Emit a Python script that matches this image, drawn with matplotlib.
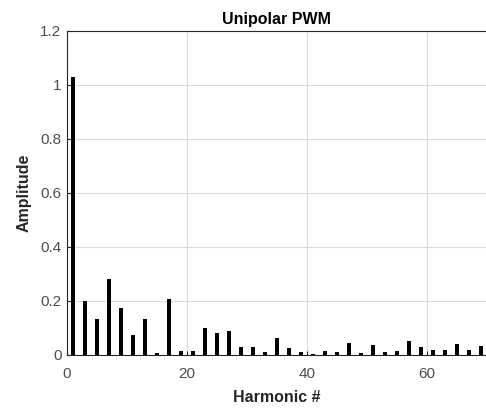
import matplotlib
matplotlib.use("Agg")
import matplotlib.pyplot as plt

# odd harmonic orders and their amplitudes
harmonics = [1, 3, 5, 7, 9, 11, 13, 15, 17, 19, 21, 23, 25, 27, 29, 31, 33, 35,
             37, 39, 41, 43, 45, 47, 49, 51, 53, 55, 57, 59, 61, 63, 65, 67, 69]
amplitude = [1.028, 0.200, 0.132, 0.283, 0.173, 0.073, 0.133, 0.006, 0.209, 0.015,
             0.015, 0.099, 0.083, 0.089, 0.031, 0.030, 0.010, 0.062,
             0.025, 0.010, 0.003, 0.015, 0.012, 0.043, 0.006, 0.037, 0.010, 0.016,
             0.052, 0.031, 0.020, 0.018, 0.040, 0.018, 0.035]

x_ticks = [0, 20, 40, 60]
y_ticks = [0, 0.2, 0.4, 0.6, 0.8, 1.0, 1.2]
y_tick_labels = ["0", "0.2", "0.4", "0.6", "0.8", "1", "1.2"]

plt.rcParams["font.family"] = ["Liberation Sans", "DejaVu Sans"]

fig = plt.figure(figsize=(4.86, 4.13), dpi=100)
ax = fig.add_axes([67 / 486, 1 - 355 / 413, 420 / 486, 324 / 413])

ax.bar(harmonics, amplitude, width=0.6, color="black", zorder=3)

ax.set_xlim(0, 70)
ax.set_ylim(0, 1.2)
ax.set_xticks(x_ticks)
ax.set_yticks(y_ticks)
ax.set_yticklabels(y_tick_labels)
ax.grid(True, color="#dcdcdc", linewidth=0.8, zorder=0)
ax.tick_params(direction="in", length=3, colors="#262626", labelsize=11,
               labelcolor="#4d4d4d", pad=4)
ax.tick_params(axis="x", pad=9)
for s in ax.spines.values():
    s.set_color("#262626")
    s.set_linewidth(0.8)

ax.set_title("Unipolar PWM", fontsize=11.5, fontweight="bold", color="black", pad=5)
ax.set_xlabel("Harmonic #", fontsize=11.5, fontweight="bold", color="#262626", labelpad=6)
ax.set_ylabel("Amplitude", fontsize=11.5, fontweight="bold", color="#262626", labelpad=6)

fig.savefig("out.png", dpi=100)
